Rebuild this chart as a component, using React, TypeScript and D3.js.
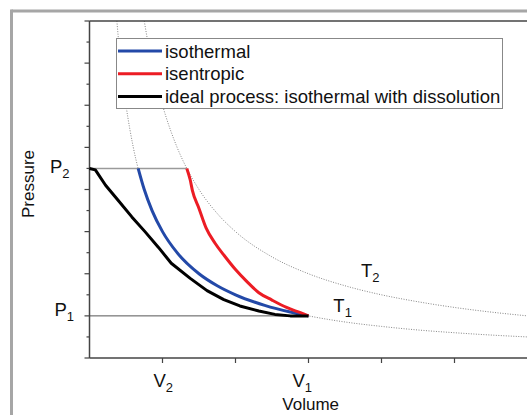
import React from "react";
import * as d3 from "d3";

// state points
const V1 = 3;
const V2 = 1;
const P1 = 2;
const P2 = 9;

// volume / pressure
const isothermV = [0.667, 0.75, 0.857, 1, 1.2, 1.5, 1.75, 2, 2.4, 2.75, 3];
const isothermP = [9, 8, 7, 6, 5, 4, 3.43, 3, 2.5, 2.18, 2];

const isentropicV = [1.333, 1.38, 1.41, 1.5, 1.6, 1.72, 1.84, 2.0, 2.15, 2.32, 2.5, 2.7, 2.89, 3];
const isentropicP = [9, 8.45, 7.95, 7.1, 6.15, 5.45, 4.89, 4.2, 3.65, 3.1, 2.75, 2.4, 2.15, 2];

const idealV = [0, 0.08, 0.22, 0.4, 0.58, 0.76, 0.945, 1.12, 1.38, 1.61, 1.84, 2.06, 2.32, 2.54, 2.75, 3];
const idealP = [9, 8.93, 8.2, 7.45, 6.7, 6.0, 5.25, 4.5, 3.78, 3.2, 2.77, 2.47, 2.23, 2.07, 2.0, 2];

// dotted isotherms T1 and T2
const t1V = [0.375, 0.4, 0.45, 0.5, 0.6, 0.75, 1, 1.25, 1.5, 2, 2.5, 3, 3.5, 4, 4.5, 5, 5.5, 6];
const t1P = [16, 15, 13.3, 12, 10, 8, 6, 4.8, 4, 3, 2.4, 2, 1.71, 1.5, 1.33, 1.2, 1.09, 1];
const t2V = [0.75, 0.8, 0.9, 1, 1.2, 1.333, 1.5, 1.75, 2, 2.5, 3, 3.5, 4, 4.5, 5, 5.5, 6];
const t2P = [16, 15, 13.3, 12, 10, 9, 8, 6.86, 6, 4.8, 4, 3.43, 3, 2.67, 2.4, 2.18, 2];

const xTicks = [1, 2, 3, 4, 5];
const yTicks = [0, 1, 2, 3, 4, 5, 6, 7, 8, 9, 10, 11, 12, 13, 14, 15, 16];

const legendNames = ["isothermal", "isentropic", "ideal process: isothermal with dissolution"];
const legendColors = ["#2349a8", "#ec1c24", "#000000"];

const width = 527;
const height = 415;
const font = "'Liberation Sans', Arial, sans-serif";

export default function App() {
  const x = d3.scaleLinear().domain([0, 6]).range([89.5, 527.5]);
  const y = d3.scaleLinear().domain([0, 16]).range([358, 21]);

  const line = d3
    .line<[number, number]>()
    .x((d) => x(d[0]))
    .y((d) => y(d[1]));
  const smooth = line.curve(d3.curveMonotoneX);
  const zip = (a: number[], b: number[]) => a.map((v, i) => [v, b[i]] as [number, number]);

  const curves = [
    { pts: zip(isothermV, isothermP), color: legendColors[0], curve: d3.curveMonotoneX },
    { pts: zip(isentropicV, isentropicP), color: legendColors[1], curve: d3.curveMonotoneX },
    { pts: zip(idealV, idealP), color: legendColors[2], curve: d3.curveLinear },
  ];

  return (
    <svg
      width={width}
      height={height}
      style={{ position: "absolute", left: 0, top: 0, background: "#fff" }}
      fontFamily={font}
    >
      {/* outer frame */}
      <line x1={11.5} x2={width} y1={11} y2={11} stroke="#a6a6a6" strokeWidth={3} />
      <line x1={11.5} x2={11.5} y1={9.5} y2={height} stroke="#a6a6a6" strokeWidth={3} />

      {/* dotted isotherms */}
      <path d={smooth(zip(t1V, t1P)) || ""} fill="none" stroke="#777" strokeWidth={0.9} strokeDasharray="1,1.5" />
      <path d={smooth(zip(t2V, t2P)) || ""} fill="none" stroke="#777" strokeWidth={0.9} strokeDasharray="1,1.5" />

      {/* P2 and P1 levels */}
      <line x1={x(0)} x2={x(isentropicV[0])} y1={y(P2)} y2={y(P2)} stroke="#9a9a9a" strokeWidth={1.5} />
      <line x1={x(0)} x2={x(V1)} y1={y(P1)} y2={y(P1)} stroke="#555" strokeWidth={1} />

      {/* axes */}
      <line x1={x(0)} x2={width} y1={y(16)} y2={y(16)} stroke="#444" strokeWidth={1.5} />
      <line x1={x(0)} x2={x(0)} y1={y(16)} y2={y(0)} stroke="#444" strokeWidth={1.5} />
      <line x1={x(0)} x2={width} y1={y(0)} y2={y(0)} stroke="#444" strokeWidth={1.5} />
      {yTicks.map((t) => (
        <line
          key={"y" + t}
          x1={x(0)}
          x2={x(0) - (t % 2 === 0 ? 5 : 3)}
          y1={y(t)}
          y2={y(t)}
          stroke="#444"
          strokeWidth={1.2}
        />
      ))}
      {xTicks.map((t) => (
        <line key={"x" + t} x1={x(t)} x2={x(t)} y1={y(0)} y2={y(0) + 5} stroke="#444" strokeWidth={1.2} />
      ))}

      {/* process curves */}
      {curves.map((c, i) => (
        <path
          key={i}
          d={line.curve(c.curve)(c.pts) || ""}
          fill="none"
          stroke={c.color}
          strokeWidth={3}
          strokeLinejoin="round"
        />
      ))}

      {/* labels */}
      <g fontSize={18.5} fill="#111">
        <text x={x(0) - 39.5} y={y(P2) + 5}>
          P<tspan fontSize={13} dy={5}>2</tspan>
        </text>
        <text x={x(0) - 35} y={y(P1)}>
          P<tspan fontSize={13} dy={5}>1</tspan>
        </text>
        <text x={x(V2) - 9} y={y(0) + 29}>
          V<tspan fontSize={13} dy={5}>2</tspan>
        </text>
        <text x={x(V1) - 16} y={y(0) + 29}>
          V<tspan fontSize={13} dy={5}>1</tspan>
        </text>
        <text x={x(3.72)} y={y(3.85)}>
          T<tspan fontSize={13} dy={5}>2</tspan>
        </text>
        <text x={x(3.34)} y={y(2.2)}>
          T<tspan fontSize={13} dy={5}>1</tspan>
        </text>
      </g>
      <g fontSize={17} fill="#111">
        <text x={x(3.03)} y={410} textAnchor="middle">
          Volume
        </text>
        <text transform="translate(34,184) rotate(-90)" textAnchor="middle">
          Pressure
        </text>
      </g>

      {/* legend */}
      <g>
        <rect x={116.5} y={38.5} width={386} height={70} fill="#fff" stroke="#888" strokeWidth={1} />
        {legendNames.map((name, i) => (
          <g key={name} transform={`translate(0, ${51 + i * 22.8})`}>
            <line x1={118} x2={162} y1={0} y2={0} stroke={legendColors[i]} strokeWidth={3} />
            <text x={165} y={6.5} fontSize={18.5} fill="#111">
              {name}
            </text>
          </g>
        ))}
      </g>
    </svg>
  );
}
